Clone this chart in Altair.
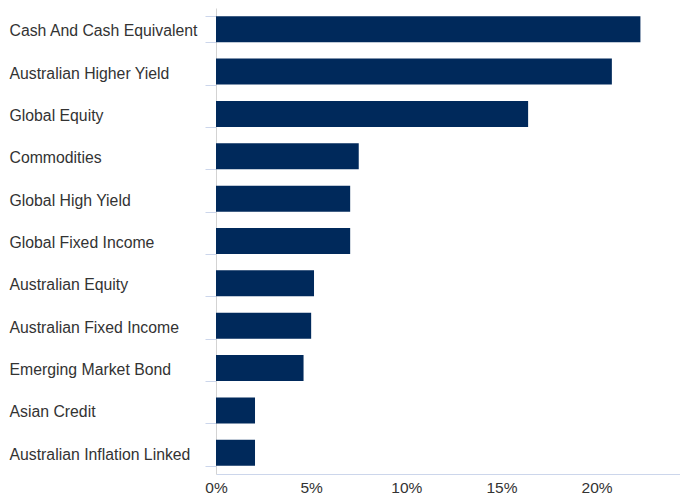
import altair as alt
import pandas as pd

categories = [
    "Cash And Cash Equivalent",
    "Australian Higher Yield",
    "Global Equity",
    "Commodities",
    "Global High Yield",
    "Global Fixed Income",
    "Australian Equity",
    "Australian Fixed Income",
    "Emerging Market Bond",
    "Asian Credit",
    "Australian Inflation Linked",
]
values = [22.3, 20.8, 16.4, 7.5, 7.05, 7.05, 5.15, 5.0, 4.6, 2.05, 2.05]
x_ticks = [0, 5, 10, 15, 20]

df = pd.DataFrame({"category": categories, "value": values})

FONT = "Liberation Sans, Arial, sans-serif"

chart = (
    alt.Chart(df)
    .mark_bar(color="#00295b")
    .encode(
        x=alt.X(
            "value:Q",
            scale=alt.Scale(domain=[0, 24.38], nice=False, zero=True),
            axis=alt.Axis(
                title=None,
                values=x_ticks,
                labelExpr="datum.value + '%'",
                labelFlush=False,
                ticks=False,
                grid=False,
                domainColor="#ccd6eb",
                domainWidth=1,
                labelFont=FONT,
                labelFontSize=15.5,
                labelColor="#333333",
                labelPadding=6,
            ),
        ),
        y=alt.Y(
            "category:N",
            sort=categories,
            scale=alt.Scale(paddingInner=0.386, paddingOuter=0.193),
            axis=alt.Axis(
                title=None,
                grid=False,
                tickBand="extent",
                tickSize=11,
                tickColor="#ccd6eb",
                domainColor="#d3d3d3",
                labelAlign="left",
                labelPadding=196,
                labelFont=FONT,
                labelFontSize=15.8,
                labelColor="#333333",
                labelOffset=1.5,
                labelLimit=0,
            ),
        ),
    )
    .properties(
        width=464,
        height=466,
        autosize=alt.AutoSizeParams(type="none"),
        padding={"left": 208, "top": 0, "right": 0, "bottom": 22},
    )
    .configure_view(stroke=None)
)

chart.save("out.html", embed_options={"renderer": "svg", "actions": False})
